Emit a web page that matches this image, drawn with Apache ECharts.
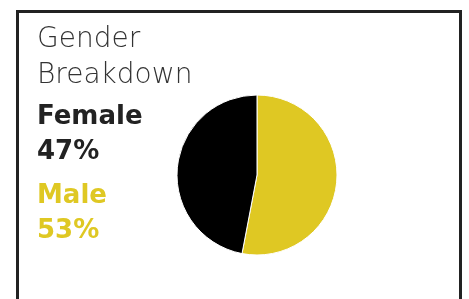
<!DOCTYPE html>
<html>
<head>
<meta charset="utf-8">
<script src="https://cdn.jsdelivr.net/npm/echarts@6/dist/echarts.min.js"></script>
<style>
  html, body { margin: 0; padding: 0; background: #fff; }
  #chart { width: 469px; height: 299px; }
</style>
</head>
<body>
<div id="chart"></div>
<script>
  // data
  const categories = ['Male', 'Female']
  const values = [53, 47]
  const colors = ['#dfc823', '#000000']
  const titleText = 'Gender\nBreakdown'

  const myChart = echarts.init(document.getElementById('chart'))

  const data = categories.map((name, i) => ({
    name,
    value: values[i],
    itemStyle: { color: colors[i] }
  }))

  // legend-like labels, female first
  const labelOrder = [1, 0]
  const labelTops = [100, 179]
  const labels = labelOrder.map((idx, k) => ({
    type: 'text',
    left: 37,
    top: labelTops[k],
    style: {
      text: categories[idx] + '\n' + values[idx] + '%',
      fontFamily: 'DejaVu Sans',
      fontSize: 26,
      fontWeight: 'bold',
      lineHeight: 35,
      fill: idx === 1 ? '#222' : colors[idx]
    }
  }))

  myChart.setOption({
    animation: false,
    title: {
      text: titleText,
      left: 32,
      top: 17,
      textStyle: {
        fontFamily: 'DejaVu Sans',
        fontSize: 28,
        fontWeight: 200,
        lineHeight: 36,
        color: '#333'
      }
    },
    graphic: [
      {
        type: 'rect',
        shape: { x: 17.5, y: 11.5, width: 443, height: 300 },
        style: { fill: 'none', stroke: '#222', lineWidth: 3 }
      },
      ...labels
    ],
    series: [
      {
        type: 'pie',
        center: [257, 175],
        radius: 80,
        startAngle: 90,
        clockwise: true,
        label: { show: false },
        labelLine: { show: false },
        itemStyle: { borderColor: '#fff', borderWidth: 1 },
        emphasis: { disabled: true },
        data
      }
    ]
  })
</script>
</body>
</html>
